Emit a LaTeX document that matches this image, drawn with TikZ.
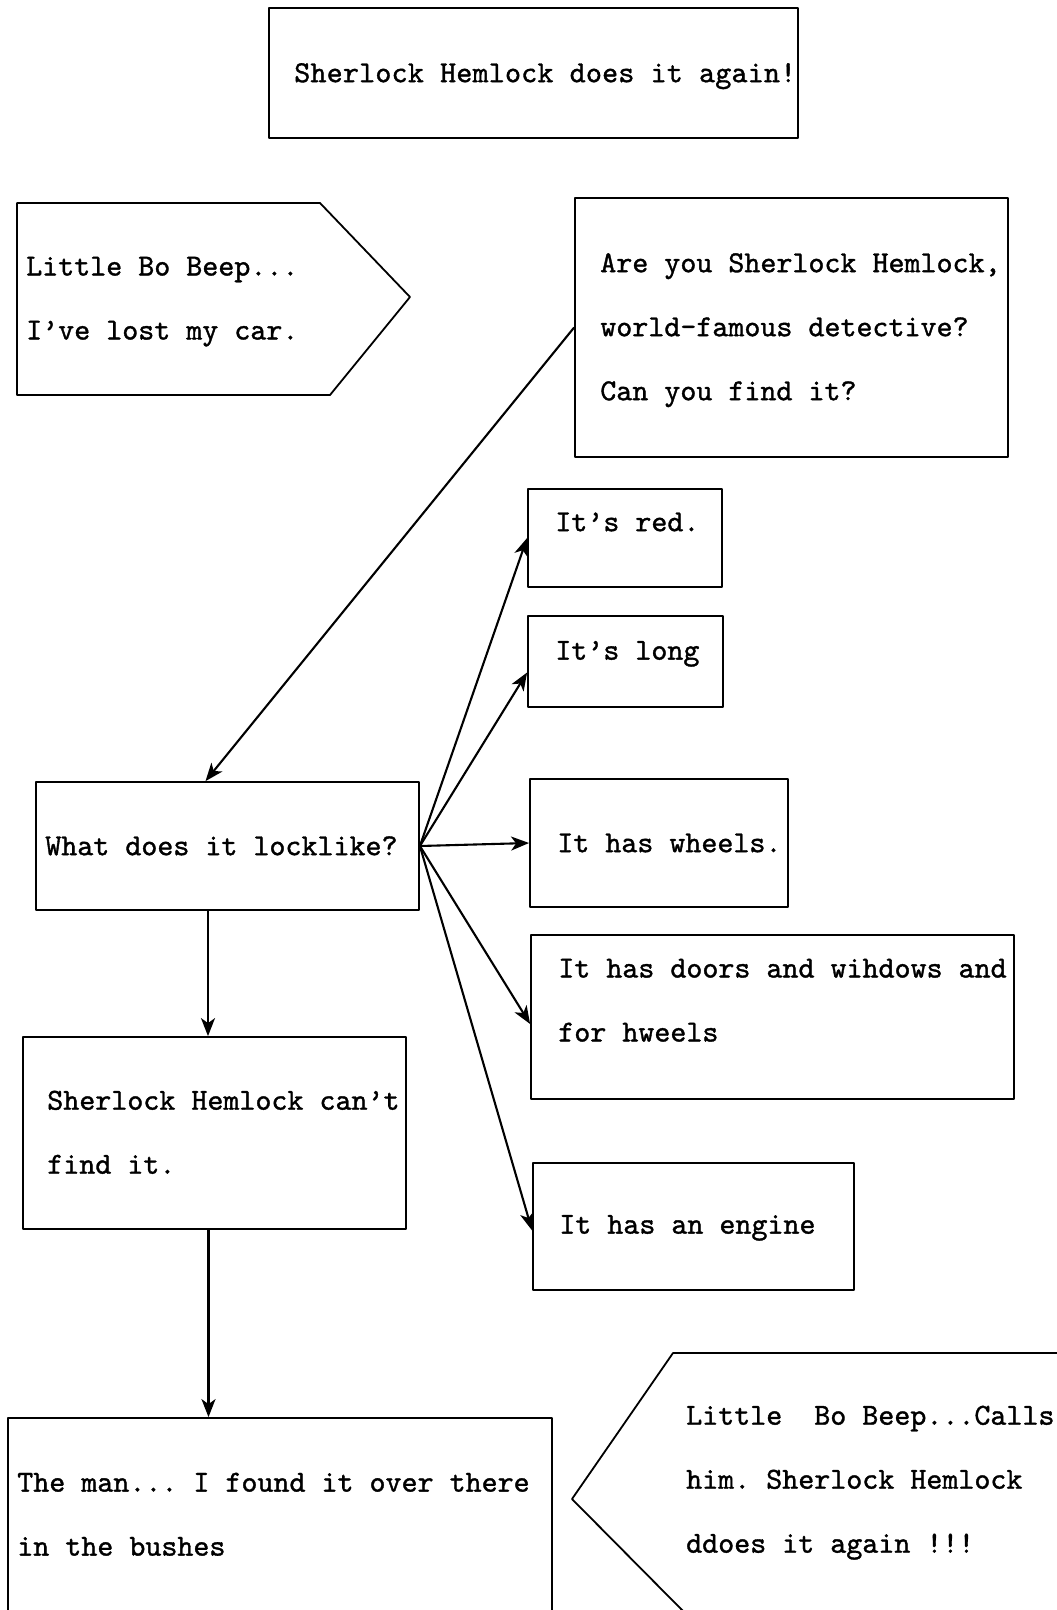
\documentclass[tikz,border=0pt]{standalone}
\usepackage{fontspec}
\usetikzlibrary{arrows.meta,positioning}
\newfontfamily\typewriter{lmmono10-regular.otf}[FakeBold=1.2]
\newcommand\tstrut{\rule[-0.25em]{0pt}{1.1em}}
\begin{document}
\frenchspacing
\begin{tikzpicture}[x=1pt, y=-1pt, line join=round]
  \tikzset{
    box/.style={draw, line width=1.8pt, inner sep=0pt},
    say/.style={font=\fontsize{30.5}{64}\selectfont\typewriter, align=left, inner sep=0pt,
      execute at begin node=\tstrut, execute at end node=\tstrut},
    clue/.style={line width=2.1pt, -{Stealth[length=18pt,width=14pt,inset=5pt]}},
  }
  \path[use as bounding box] (0,0) rectangle (1057,1610);
  \fill[white] (0,0) rectangle (1057,1610);
  % headline
  \node[box, minimum width=529pt, minimum height=130pt] (title) at (533.5,73) {};
  \node[say, right=26pt of title.west] (title-t) {\addfontfeature{LetterSpace=0.7}Sherlock Hemlock does it again!};
  % the two speech arrows are plain outlines
  \draw[line width=1.8pt] (17,203) -- (320,203) -- (410,297) -- (330,395) -- (17,395) -- cycle;
  \node[say, anchor=west] (lost) at (26,302) {Little Bo Beep...\\I’ve lost my car.};
  \draw[line width=1.8pt] (1060,1353) -- (673,1353) -- (572,1499) -- (685,1613);
  \node[say, anchor=west] (calls) at (686,1483) {Little\ \ Bo Beep...Calls\\him. Sherlock Hemlock\\ddoes it again !!!};
  % left column
  \node[box, minimum width=433pt, minimum height=259pt] (ask) at (791.5,327.5) {};
  \node[say, right=26pt of ask.west, yshift=-3pt] (ask-t) {Are you Sherlock Hemlock,\\world-famous detective?\\Can you find it?};
  \node[box, minimum width=383pt, minimum height=128pt] (what) at (227.5,846) {};
  \node[say, right=10pt of what.west] (what-t) {What does it locklike?};
  \node[box, minimum width=383pt, minimum height=192pt] (cant) at (214.5,1133) {};
  \node[say, right=25pt of cant.west, yshift=-3pt] (cant-t) {Sherlock Hemlock can’t\\find it.};
  \node[box, minimum width=544pt, minimum height=194pt] (man) at (280,1515) {};
  \node[say, right=10pt of man.west, yshift=-3pt] (man-t) {The man... I found it over there\\in the bushes};
  % answers
  \node[box, minimum width=194pt, minimum height=98pt] (red) at (625,538) {};
  \node[say, right=28pt of red.west, yshift=16pt] (red-t) {It’s red.};
  \node[box, minimum width=195pt, minimum height=91pt] (long) at (625.5,661.5) {};
  \node[say, right=28pt of long.west, yshift=11pt] (long-t) {It’s long};
  \node[box, minimum width=258pt, minimum height=128pt] (wheels) at (659,843) {};
  \node[say, right=28pt of wheels.west] (wheels-t) {It has wheels.};
  \node[box, minimum width=483pt, minimum height=164pt] (doors) at (772.5,1017) {};
  \node[say, right=28pt of doors.west, yshift=13pt] (doors-t) {It has doors and wihdows and\\for hweels};
  \node[box, minimum width=321pt, minimum height=127pt] (engine) at (693.5,1226.5) {};
  \node[say, right=27pt of engine.west, yshift=2pt] (engine-t) {It has an engine};
  % connectors
  \draw[clue] (ask.west) -- ([xshift=-22pt]what.north);
  \draw[clue] (what.east) -- (red.west);
  \draw[clue] (what.east) -- ([yshift=-11pt]long.west);
  \draw[clue] (what.east) -- (wheels.west);
  \draw[clue] (what.east) -- ([yshift=-7pt]doors.west);
  \draw[clue] (what.east) -- ([yshift=-4pt]engine.west);
  \draw[clue] ([xshift=-19.5pt]what.south) -- ([xshift=-6.5pt]cant.north);
  \draw[clue] ([xshift=-6pt]cant.south) -- ([xshift=-71.5pt]man.north);
\end{tikzpicture}
\end{document}
